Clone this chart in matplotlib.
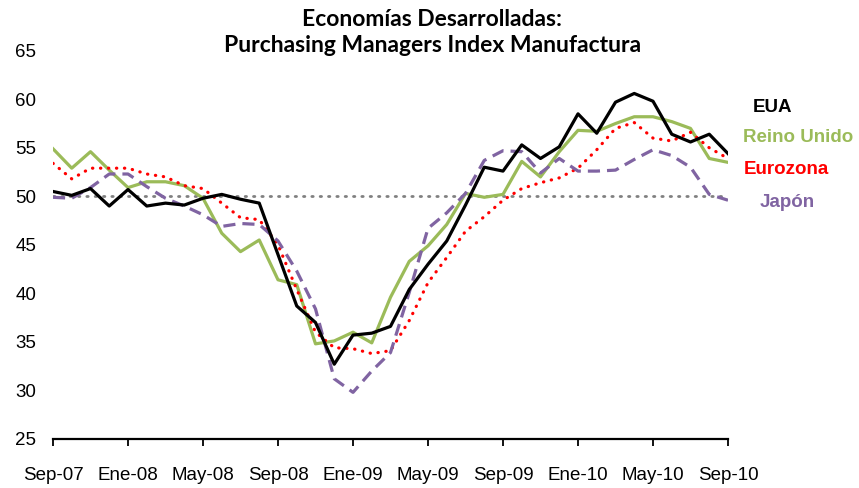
import matplotlib
matplotlib.use("Agg")
import matplotlib.pyplot as plt
import numpy as np

# monthly data, Sep-07 .. Sep-10
eua = [50.5, 50.1, 50.8, 49.0, 50.7, 49.0, 49.3, 49.1, 49.8, 50.2, 49.7, 49.3,
       44.0, 38.7, 37.0, 32.7, 35.7, 35.9, 36.6, 40.4, 43.0, 45.4, 49.1, 53.0,
       52.6, 55.3, 53.9, 55.1, 58.5, 56.5, 59.7, 60.6, 59.8, 56.4, 55.6, 56.4, 54.4]
reino_unido = [54.9, 52.9, 54.6, 52.7, 50.9, 51.5, 51.5, 51.1, 49.8, 46.2, 44.3, 45.5,
               41.4, 40.9, 34.8, 35.1, 36.0, 34.9, 39.6, 43.3, 44.9, 47.1, 50.3, 49.9,
               50.2, 53.6, 52.0, 54.6, 56.8, 56.7, 57.5, 58.2, 58.2, 57.7, 57.0, 53.9, 53.5]
eurozona = [53.4, 51.8, 52.9, 52.9, 52.9, 52.3, 52.0, 51.1, 50.8, 49.3, 47.8, 47.6,
            45.0, 40.4, 36.0, 34.4, 34.3, 33.8, 34.1, 37.2, 41.1, 43.7, 46.4, 47.9,
            49.6, 50.8, 51.4, 51.9, 52.9, 54.8, 57.0, 57.6, 56.0, 55.7, 56.6, 55.0, 53.9]
japon = [49.9, 49.8, 50.9, 52.3, 52.3, 51.0, 49.8, 49.0, 48.1, 46.9, 47.2, 47.1,
         45.4, 42.3, 38.4, 31.2, 29.8, 32.0, 33.9, 40.1, 46.7, 48.3, 50.3, 53.7,
         54.7, 54.6, 52.4, 53.9, 52.6, 52.6, 52.7, 53.8, 54.8, 54.2, 53.0, 50.2, 49.6]
tick_labels = ["Sep-07", "Ene-08", "May-08", "Sep-08", "Ene-09", "May-09",
               "Sep-09", "Ene-10", "May-10", "Sep-10"]

x = np.arange(len(eua))

fig = plt.figure(figsize=(8.59, 4.88), dpi=100)
ax = fig.add_axes([0.0617, 0.1005, 0.7858, 0.7955])

ax.axhline(50, color="#808080", lw=2, ls=(0, (0.5, 2.5)), dash_capstyle="round", zorder=1)
ax.plot(x, reino_unido, color="#9BBB59", lw=2.3, zorder=2)
ax.plot(x, eurozona, color="#FF0000", lw=2.3, ls=(0, (0.1, 2.4)), dash_capstyle="round", zorder=3)
ax.plot(x, japon, color="#8064A2", lw=2.3, ls=(0, (3.8, 2.2)), zorder=4)
ax.plot(x, eua, color="black", lw=2.3, zorder=5)

ax.set_xlim(0, 36)
ax.set_ylim(25, 65)
ax.set_yticks(range(25, 70, 5))
ax.set_xticks(range(0, 37, 4))
ax.set_xticklabels(tick_labels)
for s in ["top", "right", "left"]:
    ax.spines[s].set_visible(False)
ax.spines["bottom"].set_linewidth(1.6)
ax.tick_params(axis="y", length=0, pad=12, labelsize=13.5, labelfontfamily="Liberation Sans")
ax.tick_params(axis="x", direction="out", length=5, width=1.3, pad=15, labelsize=13.5,
               labelfontfamily="Liberation Sans")

fig.text(0.503, 0.982, "Economías Desarrolladas:\nPurchasing Managers Index Manufactura",
         ha="center", va="top", fontsize=16.5, fontweight="bold", family="Lato",
         linespacing=1.3)

lab = dict(fontsize=13.5, fontweight="bold", family="Liberation Sans", va="center", ha="left")
fig.text(753 / 859, 1 - 108 / 488, "EUA", color="black", **lab)
fig.text(743 / 859, 1 - 137 / 488, "Reino Unido", color="#9BBB59", **lab)
fig.text(744 / 859, 1 - 169 / 488, "Eurozona", color="#FF0000", **lab)
fig.text(760 / 859, 1 - 203 / 488, "Japón", color="#8064A2", **lab)

fig.savefig("out.png", dpi=100)
